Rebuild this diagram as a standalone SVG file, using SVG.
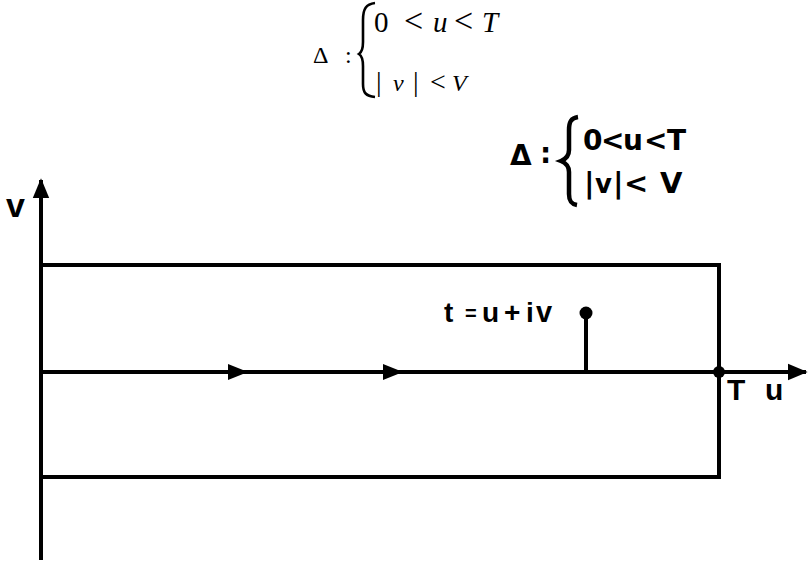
<svg xmlns="http://www.w3.org/2000/svg" width="809" height="562" viewBox="0 0 809 562">
<style>
.ln{stroke:#000;stroke-width:4;fill:none}
.serif{font-family:"Liberation Serif","DejaVu Serif",serif;fill:#000}
.sans{font-family:"Liberation Sans","DejaVu Sans",sans-serif;font-weight:bold;fill:#000}
.dj{font-family:"DejaVu Sans","Liberation Sans",sans-serif;font-weight:bold;fill:#000}
</style>
<defs>
<marker id="ah" viewBox="0 0 12 10" refX="11" refY="5" markerWidth="5" markerHeight="5" orient="auto" markerUnits="strokeWidth">
<path d="M0,0 L12,5 L0,10 Z" fill="#000"/>
</marker>
</defs>
<g id="formula-top">
<text class="serif" x="313" y="63" font-size="24">Δ</text>
<text class="serif" x="345" y="63" font-size="24">:</text>
<path d="M375,3 C366,4 363,9 363,20 L363,42 C363,48 362,52 359,54 C362,56 363,60 363,66 L363,84 C363,93 366,96 375,97" stroke="#000" stroke-width="2.6" fill="none"/>
<text class="serif" y="32" font-size="29"><tspan x="374">0</tspan><tspan x="404" font-size="34">&lt;</tspan><tspan x="433" font-style="italic">u</tspan><tspan x="454" font-size="34">&lt;</tspan><tspan x="482" font-style="italic">T</tspan></text>
<text class="serif" y="91" font-size="24"><tspan x="376" font-size="28">|</tspan><tspan x="393" font-style="italic">v</tspan><tspan x="413" font-size="28">|</tspan><tspan x="430" font-size="28">&lt;</tspan><tspan x="452" font-style="italic">V</tspan></text>
</g>
<g id="formula-bottom">
<text class="dj" x="510" y="165" font-size="28">Δ</text>
<text class="dj" x="540" y="163" font-size="28">:</text>
<path d="M578,117 C571,118 569,122 569,130 L569,150 C569,156 566,159 561,161 C566,163 569,166 569,172 L569,194 C569,201 571,204 577,205" stroke="#000" stroke-width="4.5" fill="none"/>
<text class="dj" y="150" font-size="28"><tspan x="583">0</tspan><tspan x="601">&lt;</tspan><tspan x="623">u</tspan><tspan x="644">&lt;</tspan><tspan x="667">T</tspan></text>
<text class="dj" y="193" font-size="29"><tspan x="584">|</tspan><tspan x="595" font-size="26">v</tspan><tspan x="613">|</tspan><tspan x="624">&lt;</tspan><tspan x="660">V</tspan></text>
</g>
<g id="box">
<path class="ln" d="M41,265 H719 V477 H41"/>
</g>
<g id="connectors">
<line class="ln" x1="41" y1="560" x2="41" y2="180" marker-end="url(#ah)"/>
<line class="ln" x1="41" y1="372" x2="806" y2="372" marker-end="url(#ah)"/>
<path d="M228,364 L248,372 L228,380 Z" fill="#000"/>
<path d="M383,364 L403,372 L383,380 Z" fill="#000"/>
<line class="ln" x1="586" y1="313" x2="586" y2="372"/>
</g>
<g id="points">
<circle cx="586" cy="313" r="6.5" fill="#000"/>
<circle cx="719" cy="372" r="6" fill="#000"/>
</g>
<g id="labels">
<text class="sans" x="6" y="217" font-size="34">v</text>
<text class="sans" y="322" font-size="28"><tspan x="444">t</tspan><tspan x="465" font-size="20" dy="-2">=</tspan><tspan x="482" dy="2">u</tspan><tspan x="504">+</tspan><tspan x="526">i</tspan><tspan x="536" font-size="29">v</tspan></text>
<text class="sans" x="727" y="400" font-size="30">T</text>
<text class="sans" x="765" y="400" font-size="30">u</text>
</g>
</svg>
